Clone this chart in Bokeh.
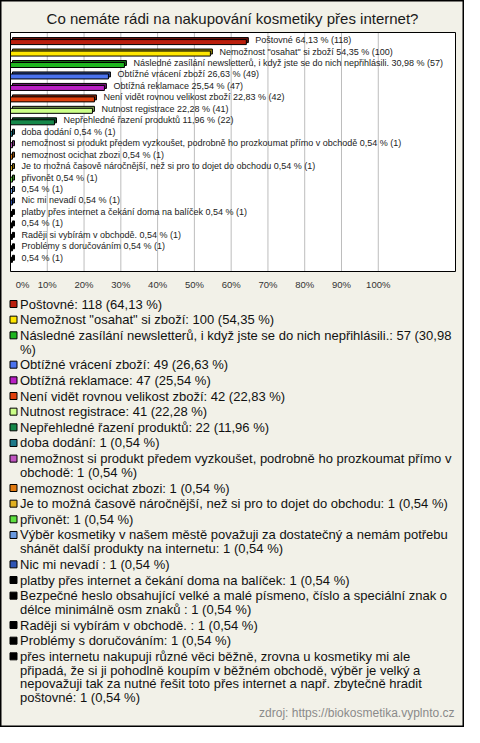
from bokeh.plotting import figure
from bokeh.models import Range1d, ColumnDataSource
from bokeh.core.properties import value
from bokeh.embed import file_html
from bokeh.resources import INLINE

# ---------------- data ----------------
title_text = "Co nemáte rádi na nakupování kosmetiky přes internet?"
names = [
    "Poštovné",
    "Nemožnost \"osahat\" si zboží",
    "Následné zasílání newsletterů, i když jste se do nich nepřihlásili.",
    "Obtížné vrácení zboží",
    "Obtížná reklamace",
    "Není vidět rovnou velikost zboží",
    "Nutnost registrace",
    "Nepřehledné řazení produktů",
    "doba dodání",
    "nemožnost si produkt předem vyzkoušet, podrobně ho prozkoumat přímo v obchodě",
    "nemoznost ocichat zbozi",
    "Je to možná časově náročnější, než si pro to dojet do obchodu",
    "přivonět",
    "Výběr kosmetiky v našem městě považuji za dostatečný a nemám potřebu shánět další produkty na internetu",
    "Nic mi nevadí ",
    "platby přes internet a čekání doma na balíček",
    "Bezpečné heslo obsahující velké a malé písmeno, číslo a speciální znak o délce minimálně osm znaků ",
    "Raději si vybírám v obchodě. ",
    "Problémy s doručováním",
    "přes internetu nakupuji různé věci běžně, zrovna u kosmetiky mi ale připadá, že si ji pohodlně koupím v běžném obchodě, výběr je velký a nepovažuji tak za nutné řešit toto přes internet a např. zbytečně hradit poštovné",
]
counts = [118, 100, 57, 49, 47, 42, 41, 22, 1, 1, 1, 1, 1, 1, 1, 1, 1, 1, 1, 1]
percents = [64.13, 54.35, 30.98, 26.63, 25.54, 22.83, 22.28, 11.96,
            0.54, 0.54, 0.54, 0.54, 0.54, 0.54, 0.54, 0.54, 0.54, 0.54, 0.54, 0.54]
colors = ["#bb1f0d", "#ffe600", "#1fb51f", "#4a72ee", "#b91fc4", "#e0400e",
          "#ccff88", "#16884a", "#1f7a8a", "#c055c0", "#e07a10", "#e0b020",
          "#5ee040", "#6a9ae0", "#2f55b5", "#000000", "#000000", "#000000",
          "#000000", "#000000"]
x_ticks = [0, 10, 20, 30, 40, 50, 60, 70, 80, 90, 100]
tick_labels = ["0%", "10%", "20%", "30%", "40%", "50%", "60%", "70%", "80%", "90%", "100%"]
source_text = "zdroj: https://biokosmetika.vyplnto.cz"

# ---------------- styling / layout constants (pixels) ----------------
BG = "#f2f1e8"
FONT = "Liberation Sans"
W, H = 464, 727
BOX_L, BOX_R, BOX_T, BOX_B = 10, 455, 32, 271
TITLE_Y = 18
X_MAX = 121
PAD_TOP, PAD_BOTTOM = 0.75, 1.11
TICK_DY = 13
FIRST_TICK_DX = 12
LEG_FS = 13
LEG_FIRST, LINE_GAP, ENTRY_GAP = 303.5, 13.7, 15.66
LEG_SQ_X, LEG_TXT_X = 13, 19.5
WRAP_W = 440
n = len(names)

def fmt(v):
    return ("%.2f" % v).replace(".", ",")

def darken(c, f=0.6):
    r, g, b = int(c[1:3], 16), int(c[3:5], 16), int(c[5:7], 16)
    return "#%02x%02x%02x" % (int(r * f), int(g * f), int(b * f))

# approximate Arial/Liberation widths (em) for wrapping the legend
def char_w(ch):
    if ch in "ijl": return 0.222
    if ch in "íìftť ,.:;/!'": return 0.278
    if ch in "rř()-": return 0.333
    if ch in "sšcčkvyýzžx": return 0.5
    if ch in "m": return 0.833
    if ch in "w": return 0.722
    if ch in "%": return 0.889
    if ch in "\"": return 0.355
    if ch in "I": return 0.278
    if ch in "J": return 0.5
    if ch in "LT": return 0.6
    if ch in "CDNRŘČÚŮH": return 0.722
    if ch in "OQ": return 0.778
    if ch in "M": return 0.833
    if ch in "W": return 0.944
    if ch.isupper(): return 0.667
    return 0.556

def text_w(s, size):
    return sum(char_w(c) for c in s) * size

def wrap(s, size, maxw):
    lines, cur = [], None
    for w in s.split(" "):
        cand = w if cur is None else cur + " " + w
        if cur is not None and text_w(cand, size) > maxw:
            lines.append(cur)
            cur = w
        else:
            cur = cand
    lines.append(cur)
    return lines

# ---------------- figure (frame = whole canvas, pixel coordinates) ----------------
p = figure(width=W, height=H, x_range=Range1d(0, W), y_range=Range1d(H, 0),
           output_backend="svg", toolbar_location=None, x_axis_location=None,
           y_axis_location=None, min_border=0, background_fill_color=BG,
           border_fill_color=BG, outline_line_color="black", outline_line_width=2)
p.grid.visible = False

# scales for the bar chart box
box_w, box_h = BOX_R - BOX_L, BOX_B - BOX_T
span = (n - 1) + PAD_TOP + PAD_BOTTOM
ux = X_MAX / box_w
uy = span / box_h
y_first, y_last = -PAD_TOP, n - 1 + PAD_BOTTOM
p.extra_x_ranges = {"pct": Range1d(-BOX_L * ux, X_MAX + (W - BOX_R) * ux)}
p.extra_y_ranges = {"row": Range1d(y_last + (H - BOX_B) * uy, y_first - BOX_T * uy)}
R = dict(x_range_name="pct", y_range_name="row")

# title
p.text(x=[W / 2], y=[TITLE_Y], text=[title_text], text_font=value(FONT),
       text_font_size="15px", text_color="#1a1a1a", text_align="center",
       text_baseline="middle")

# plot box, grid and x tick labels
p.quad(left=[0], right=[X_MAX], top=[y_first], bottom=[y_last],
       fill_color="white", line_color=None, **R)
p.segment(x0=x_ticks, x1=x_ticks, y0=[y_first] * len(x_ticks),
          y1=[y_last] * len(x_ticks), line_color="#bdbdbd", line_width=1, **R)
tick_src = ColumnDataSource(dict(
    x=x_ticks, y=[y_last] * len(x_ticks), t=tick_labels,
    dx=[FIRST_TICK_DX if t == x_ticks[0] else 0 for t in x_ticks]))
p.text(x="x", y="y", text="t", source=tick_src, x_offset="dx", y_offset=TICK_DY,
       text_font=value(FONT), text_font_size="9.5px", text_color="#333333",
       text_align="center", text_baseline="middle", **R)

# 3D-looking bars
DX, DY, FH, OFF = 2 * ux, 2 * uy, 2.5 * uy, 1 * uy
idx = list(range(n))
bar_labels = [(nm + " " if len(nm) <= 90 else "") + fmt(pc) + " % (" + str(c) + ")"
              for nm, pc, c in zip(names, percents, counts)]
src = ColumnDataSource(dict(
    y=idx, pct=percents, label=bar_labels, color=colors,
    back=[darken(c) for c in colors],
    f_left=[0] * n, f_right=percents,
    f_top=[i + OFF - FH for i in idx], f_bot=[i + OFF + FH for i in idx],
    b_left=[DX] * n, b_right=[v + DX for v in percents],
    b_top=[i + OFF - FH - DY for i in idx], b_bot=[i + OFF + FH - DY for i in idx],
))
p.quad(left="b_left", right="b_right", top="b_top", bottom="b_bot", source=src,
       fill_color="back", line_color="black", line_width=1, **R)
p.quad(left="f_left", right="f_right", top="f_top", bottom="f_bot", source=src,
       fill_color="color", line_color="black", line_width=1, **R)
p.text(x="pct", y="y", text="label", source=src, x_offset=9, y_offset=-1,
       text_font=value(FONT), text_font_size="9px", text_color="#222222",
       text_baseline="middle", text_align="left", **R)
p.quad(left=[0], right=[X_MAX], top=[y_first], bottom=[y_last],
       fill_color=None, line_color="black", line_width=1, **R)

# legend
legend_labels = [nm + ": " + str(c) + " (" + fmt(pc) + " %)"
                 for nm, pc, c in zip(names, percents, counts)]
entry_y, line_y, line_t = [], [], []
yy = LEG_FIRST
for lab in legend_labels:
    lines = wrap(lab, LEG_FS, WRAP_W)
    entry_y.append(yy)
    for j, t in enumerate(lines):
        line_y.append(yy + j * LINE_GAP)
        line_t.append(t)
    yy += (len(lines) - 1) * LINE_GAP + ENTRY_GAP

p.scatter(x=[LEG_SQ_X] * n, y=entry_y, marker="square", size=7, fill_color=colors,
          line_color="black", line_width=1)
p.text(x=[LEG_TXT_X] * len(line_t), y=line_y, text=line_t, text_font=value(FONT),
       text_font_size="13px", text_color="#111111", text_baseline="middle")
p.text(x=[W - 10], y=[line_y[-1] + 15.5], text=[source_text], text_font=value(FONT),
       text_font_size="12px", text_color="#8a8a8a", text_baseline="middle",
       text_align="right")

open("out.html", "w").write(file_html(p, INLINE))
